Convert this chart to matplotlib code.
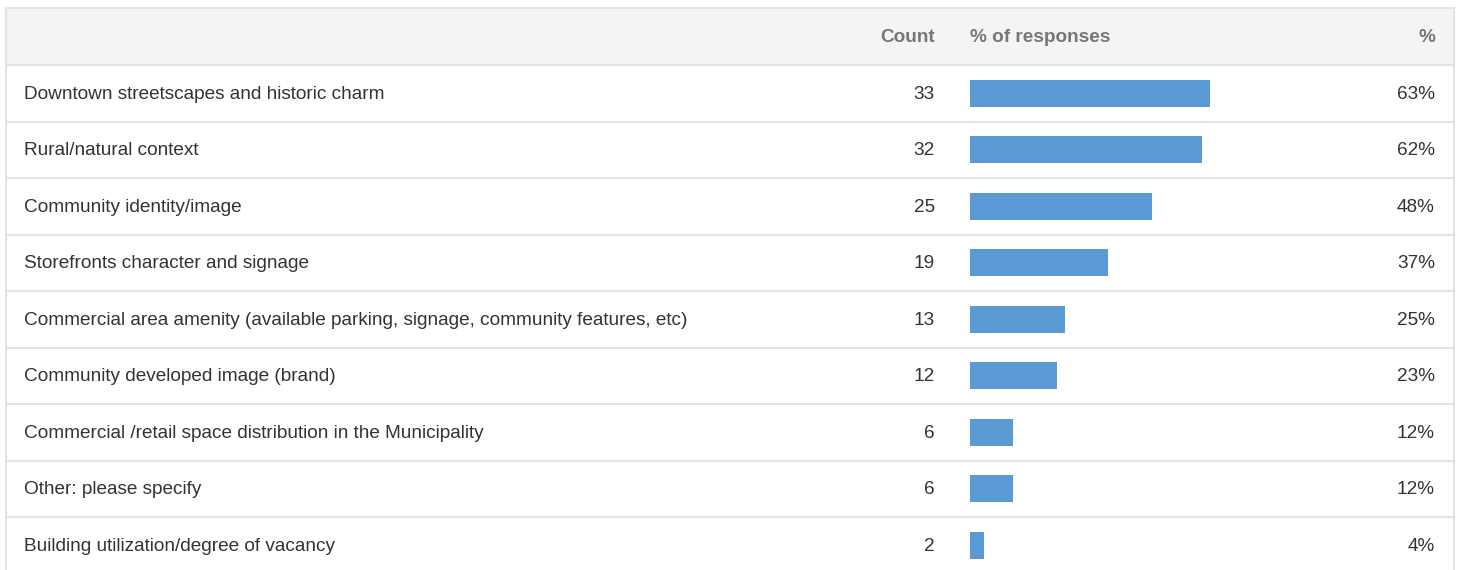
import matplotlib
matplotlib.use('Agg')
import matplotlib.pyplot as plt
from matplotlib.patches import Rectangle

plt.rcParams['font.family'] = ['Liberation Sans', 'DejaVu Sans']

labels = [
    'Downtown streetscapes and historic charm',
    'Rural/natural context',
    'Community identity/image',
    'Storefronts character and signage',
    'Commercial area amenity (available parking, signage, community features, etc)',
    'Community developed image (brand)',
    'Commercial /retail space distribution in the Municipality',
    'Other: please specify',
    'Building utilization/degree of vacancy',
]
counts = [33, 32, 25, 19, 13, 12, 6, 6, 2]
pct_labels = ['63%', '62%', '48%', '37%', '25%', '23%', '12%', '12%', '4%']
# unrounded shares as drawn by the bars
shares = [63.5, 61.5, 48.1, 36.5, 25.0, 23.1, 11.5, 11.5, 3.8]
headers = ['Count', '% of responses', '%']

W, H = 1458, 570
TEXT = '#333333'
HEAD = '#777777'
LINE = '#e3e3e3'
BAR = '#5b9bd5'
FS = 13.7

ylim = (8.438, -1.651)
head_top = -1.509

fig = plt.figure(figsize=(W / 100, H / 100), dpi=100)
ax = fig.add_axes([0, 0, 1, 1])
ax.set_xlim(0, W)
ax.set_ylim(*ylim)
ax.axis('off')

# header band and frame
ax.add_patch(Rectangle((6, head_top), 1448, -0.5 - head_top, facecolor='#f4f4f4',
                       edgecolor='none', zorder=0))
ax.plot([6, 1454], [head_top, head_top], color=LINE, lw=1.5)
ax.plot([6, 6], [head_top, ylim[0]], color=LINE, lw=1.5)
ax.plot([1454, 1454], [head_top, ylim[0]], color=LINE, lw=1.5)
for i in range(len(labels)):
    ax.plot([6, 1454], [i - 0.5, i - 0.5], color=LINE, lw=1.5)

hy = -0.98
ax.text(935, hy, headers[0], ha='right', va='center', fontsize=FS, color=HEAD, fontweight='bold')
ax.text(970, hy, headers[1], ha='left', va='center', fontsize=FS, color=HEAD, fontweight='bold')
ax.text(1435, hy, headers[2], ha='right', va='center', fontsize=FS, color=HEAD, fontweight='bold')

for i, (lab, c, p) in enumerate(zip(labels, counts, pct_labels)):
    ax.text(24, i + 0.02, lab, ha='left', va='center', fontsize=FS, color=TEXT)
    ax.text(935, i + 0.02, str(c), ha='right', va='center', fontsize=FS, color=TEXT)
    ax.text(1435, i + 0.02, p, ha='right', va='center', fontsize=FS, color=TEXT)

# bars
bx = fig.add_axes([970 / W, 0, 378 / W, 1])
bx.set_xlim(0, 100)
bx.set_ylim(*ylim)
bx.axis('off')
bx.patch.set_alpha(0)
bx.barh(range(len(shares)), shares, height=0.47, color=BAR)

fig.savefig('out.png', dpi=100)
